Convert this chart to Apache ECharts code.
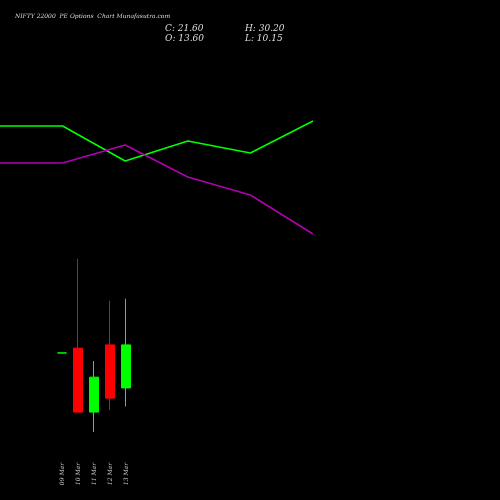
<!DOCTYPE html>
<html>
<head>
<meta charset="utf-8">
<script src="https://cdn.jsdelivr.net/npm/echarts@6/dist/echarts.min.js"></script>
<style>html,body{margin:0;background:#000}#c{width:500px;height:500px}</style>
</head>
<body>
<div id="c"></div>
<script>
const dates = ['09 Mar', '10 Mar', '11 Mar', '12 Mar', '13 Mar'];
// [open, close, low, high]
const candles = [
  [20.1, 20.1, 20.1, 20.1],
  [21.0, 9.1, 9.1, 37.6],
  [9.1, 15.6, 5.4, 18.6],
  [21.6, 11.7, 9.5, 29.8],
  [13.6, 21.6, 10.15, 30.2]
];
const lineSteps = ['1', '2', '3', '4', '5', '6'];
const greenLine = [124, 124, 89, 109, 97, 129];
const purpleLine = [87, 87, 105, 73, 55, 16];

const chart = echarts.init(document.getElementById('c'));
const ser = 'DejaVu Serif';
chart.setOption({
  backgroundColor: '#000',
  animation: false,
  title: [
    { text: 'NIFTY 22000  PE Options  Chart Munafasutra.com', left: 10, top: 8,
      textStyle: { color: '#ddd', fontSize: 6, fontStyle: 'italic', fontFamily: ser, fontWeight: 'normal' } },
    { text: 'C: 21.60\nO: 13.60', left: 160, top: 19,
      textStyle: { color: '#ddd', fontSize: 9, lineHeight: 10, fontStyle: 'italic', fontFamily: ser, fontWeight: 'normal' } },
    { text: 'H: 30.20\nL: 10.15', left: 240, top: 19,
      textStyle: { color: '#ddd', fontSize: 9, lineHeight: 10, fontStyle: 'italic', fontFamily: ser, fontWeight: 'normal' } }
  ],
  grid: [
    { left: 54, top: 246, width: 80, height: 215 },
    { left: 0, top: 100, width: 313, height: 150 }
  ],
  xAxis: [
    { type: 'category', data: dates, gridIndex: 0, offset: 0,
      axisLine: { show: false }, axisTick: { show: false }, splitLine: { show: false },
      axisLabel: { rotate: 90, margin: 2, color: '#ccc', fontSize: 6, fontStyle: 'italic', fontFamily: ser } },
    { type: 'category', data: lineSteps, gridIndex: 1, boundaryGap: false, show: false }
  ],
  yAxis: [
    { type: 'value', gridIndex: 0, min: 0, max: 40, show: false },
    { type: 'value', gridIndex: 1, min: 0, max: 150, show: false }
  ],
  series: [
    { type: 'candlestick', data: candles, xAxisIndex: 0, yAxisIndex: 0, barWidth: 10,
      itemStyle: { color: '#00ff00', color0: '#ff0000', borderColor: '#00ff00', borderColor0: '#ff0000', borderWidth: 1 } },
    { type: 'line', data: greenLine, xAxisIndex: 1, yAxisIndex: 1, symbol: 'none',
      lineStyle: { color: '#00ff00', width: 1.5 } },
    { type: 'line', data: purpleLine, xAxisIndex: 1, yAxisIndex: 1, symbol: 'none',
      lineStyle: { color: '#b000b0', width: 1.5 } }
  ]
});
</script>
</body>
</html>
